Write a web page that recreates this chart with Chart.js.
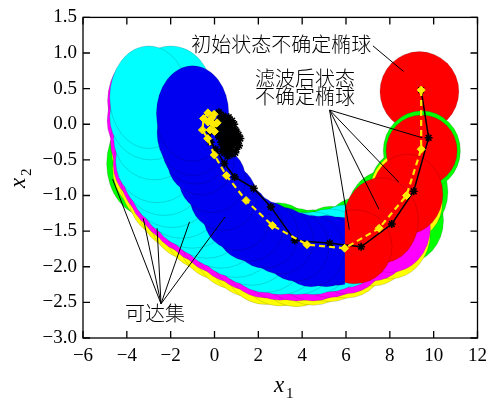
<!DOCTYPE html>
<html lang="zh">
<head>
<meta charset="UTF-8">
<title>可达集与不确定椭球</title>
<script src="https://cdn.jsdelivr.net/npm/chart.js"></script>
<style>
  html, body { margin: 0; padding: 0; background: #fff; }
  #wrap { width: 494px; height: 403px; }
</style>
</head>
<body>
<div id="wrap"><canvas id="graphique" width="494" height="403"></canvas></div>
<script>
// ---- données ----
const xTicks = [-6, -4, -2, 0, 2, 4, 6, 8, 10, 12];
const yTicks = [-3.0, -2.5, -2.0, -1.5, -1.0, -0.5, 0.0, 0.5, 1.0, 1.5];

// estimation filtrée (tirets jaunes)
const estX = [9.43, 9.43, 8.76, 7.51, 5.94, 4.22, 2.64, 1.44, 0.54, -0.01, -0.31, -0.55, -0.5, -0.3, -0.02, 0.12, 0.0, -0.2, -0.3, -0.15, -0.05];
const estY = [0.48, -0.35, -1.0, -1.46, -1.74, -1.69, -1.42, -1.07, -0.72, -0.43, -0.20, -0.08, 0.08, 0.16, 0.14, 0.02, -0.1, -0.08, 0.03, 0.08, 0.0];

// état réel (noir)
const trueX = [9.43, 9.77, 9.09, 8.09, 6.69, 5.26, 3.66, 2.57, 1.79, 0.92, 0.45, 0.05, -0.18, -0.2, 0.05,
  0.25, 0.4, 0.55, 0.35, 0.6, 0.8, 0.7, 0.95, 1.1, 0.9, 0.65, 0.45, 0.3, 0.5, 0.7, 0.6, 0.85, 1.05, 1.18, 1.0,
  0.8, 0.55, 0.4, 0.2, 0.15, 0.3, 0.2, 0.45, 0.65, 0.75, 0.9, 0.55, 0.35, 0.6, 0.75, 0.95,
  0.5, 0.25, 0.1, 0.4, 0.7, 1.0, 0.85, 0.6, 0.45, 0.3, 0.55, 0.8, 1.12, 0.95, 0.7, 0.35, 0.15];
const trueY = [0.48, -0.19, -0.94, -1.40, -1.72, -1.67, -1.63, -1.16, -0.90, -0.74, -0.55, -0.35, -0.25, -0.1, -0.05,
  0.05, 0.12, 0.08, -0.05, -0.02, 0.05, -0.12, -0.08, -0.15, -0.25, -0.2, -0.15, -0.25, -0.32, -0.38, -0.28, -0.3, -0.25, -0.2, -0.35,
  -0.42, -0.4, -0.3, -0.18, -0.05, 0.1, 0.17, 0.02, 0.1, -0.05, 0.0, -0.1, -0.2, -0.45, -0.25, -0.18,
  -0.22, -0.1, 0.02, 0.08, 0.0, -0.1, -0.2, -0.33, -0.4, -0.12, 0.0, -0.15, -0.3, -0.4, -0.33, -0.38, -0.12];

// ellipses [cx, cy, rx, ry]
const initialSet = [[9.35, 0.46, 1.8, 0.56]];
const greenSets = [
  [-3.0, -0.55, 1.92, 0.75], [2.9, -1.6, 1.6, 0.5], [3.7, -1.68, 1.6, 0.5], [4.5, -1.72, 1.6, 0.52],
  [5.3, -1.7, 1.6, 0.55], [6.6, -1.62, 1.75, 0.6], [7.8, -1.3, 1.8, 0.65], [8.7, -1.35, 1.75, 0.6],
  [8.85, -0.95, 1.8, 0.62], [9.46, -0.37, 1.76, 0.56]
];
const yellowSets = [
  [-2.75, -0.35, 1.95, 0.68], [-2.65, -0.62, 2.0, 0.65], [-2.3, -0.8, 2.0, 0.65], [-1.95, -0.97, 2.0, 0.65],
  [-1.5, -1.12, 2.0, 0.65], [-1.0, -1.26, 2.0, 0.65], [-0.35, -1.4, 2.0, 0.65], [0.3, -1.54, 2.0, 0.65],
  [1.0, -1.67, 2.0, 0.65], [1.7, -1.78, 2.0, 0.65], [2.35, -1.88, 2.0, 0.65], [3.0, -1.91, 1.98, 0.64],
  [3.75, -1.92, 1.98, 0.64], [4.5, -1.91, 1.98, 0.63], [5.25, -1.87, 1.95, 0.62], [6.0, -1.82, 1.9, 0.62],
  [7.2, -1.65, 1.85, 0.62], [8.0, -1.52, 1.85, 0.65], [8.9, -1.1, 1.5, 0.52], [8.7, -0.95, 1.6, 0.56]
];
const magentaSets = [
  [-3.0, 0.33, 1.88, 0.7], [-2.95, 0.05, 1.95, 0.62], [-2.8, -0.25, 1.95, 0.6], [-2.65, -0.56, 1.97, 0.61],
  [-2.3, -0.75, 1.97, 0.61], [-1.95, -0.92, 1.97, 0.61], [-1.5, -1.07, 1.97, 0.61], [-1.0, -1.21, 1.97, 0.61],
  [-0.35, -1.35, 1.97, 0.61], [0.3, -1.49, 1.97, 0.61], [1.0, -1.62, 1.97, 0.61], [1.7, -1.73, 1.97, 0.61],
  [2.35, -1.83, 1.97, 0.61], [3.0, -1.86, 1.95, 0.61], [3.75, -1.87, 1.95, 0.61], [4.5, -1.87, 1.95, 0.61],
  [5.25, -1.83, 1.9, 0.6], [6.0, -1.78, 1.85, 0.6], [7.2, -1.6, 1.8, 0.6], [8.0, -1.45, 1.85, 0.63]
];
const cyanSets = [
  [-3.0, 0.38, 1.78, 0.72], [-2.0, 0.42, 1.9, 0.68], [-2.9, 0.1, 1.88, 0.6], [-2.75, -0.2, 1.85, 0.58],
  [-2.62, -0.52, 1.89, 0.58], [-2.3, -0.7, 1.89, 0.58], [-1.95, -0.87, 1.89, 0.58], [-1.5, -1.02, 1.89, 0.58],
  [-1.0, -1.16, 1.89, 0.58], [-0.35, -1.3, 1.89, 0.58], [0.3, -1.44, 1.89, 0.58], [1.0, -1.57, 1.89, 0.58],
  [1.7, -1.68, 1.89, 0.58], [2.33, -1.78, 1.89, 0.58], [3.0, -1.81, 1.89, 0.58], [3.75, -1.81, 1.89, 0.58],
  [4.5, -1.81, 1.89, 0.58], [5.25, -1.77, 1.89, 0.58], [6.0, -1.71, 1.75, 0.58]
];
const blueSets = [
  [-1.0, 0.15, 1.65, 0.67], [-1.0, -0.12, 1.62, 0.6], [-0.85, -0.32, 1.55, 0.52], [-0.63, -0.51, 1.52, 0.48],
  [-0.1, -0.77, 1.52, 0.47], [0.4, -1.02, 1.52, 0.47], [1.03, -1.3, 1.52, 0.47], [1.6, -1.45, 1.52, 0.47],
  [2.3, -1.55, 1.52, 0.47], [3.0, -1.63, 1.52, 0.47], [3.7, -1.72, 1.52, 0.48], [4.4, -1.78, 1.52, 0.5],
  [5.1, -1.78, 1.5, 0.5], [5.6, -1.78, 1.5, 0.48]
];
const redSets = [
  [9.45, -0.37, 1.62, 0.5], [8.8, -0.98, 1.62, 0.56], [7.6, -1.35, 1.7, 0.6], [6.4, -1.72, 1.7, 0.52]
];
const cutX = 5.95;

// annotations
const labelTexts = ['初始状态不确定椭球', '滤波后状态', '不确定椭球', '可达集'];
const labelX = [3.05, 4.13, 4.13, -2.71];
const labelY = [1.126, 0.64, 0.39, -2.65];
// lignes de rappel [x0, y0, x1, y1]
const leaders = [
  [7.23, 1.1, 8.63, 0.74],
  [5.25, 0.2, 9.48, -0.19], [5.25, 0.2, 8.4, -0.81], [5.25, 0.2, 7.5, -1.19], [5.25, 0.2, 6.15, -1.48],
  [-2.44, -2.52, -4.65, -0.77], [-2.44, -2.52, -3.25, -1.32], [-2.44, -2.52, -2.62, -1.46],
  [-2.44, -2.52, -1.14, -1.37], [-2.44, -2.52, 0.48, -1.3]
];

// ---- couches d'ellipses ----
const layers = [
  { sets: initialSet, color: '#ff0000' },
  { sets: greenSets, color: '#00ff00' },
  { sets: yellowSets, color: '#ffff00' },
  { sets: magentaSets, color: '#ff00ff' },
  { sets: cyanSets, color: '#00ffff', reverse: true },
  { sets: blueSets, color: '#0000f0', reverse: true, xMax: cutX },
  { sets: redSets, color: '#ff0000', xMin: cutX }
];

const ellipsePlugin = {
  id: 'ellipses',
  beforeDatasetsDraw(chart) {
    const { ctx, chartArea: a, scales: { x, y } } = chart;
    ctx.save();
    ctx.beginPath();
    ctx.rect(a.left, a.top, a.right - a.left, a.bottom - a.top);
    ctx.clip();
    layers.forEach(layer => {
      ctx.save();
      if (layer.xMax !== undefined || layer.xMin !== undefined) {
        const l = layer.xMin !== undefined ? x.getPixelForValue(layer.xMin) : a.left;
        const r = layer.xMax !== undefined ? x.getPixelForValue(layer.xMax) : a.right;
        ctx.beginPath();
        ctx.rect(l, a.top, r - l, a.bottom - a.top);
        ctx.clip();
      }
      const list = layer.reverse ? layer.sets.slice().reverse() : layer.sets;
      list.forEach(([cx, cy, rx, ry]) => {
        const px = x.getPixelForValue(cx), py = y.getPixelForValue(cy);
        const prx = Math.abs(x.getPixelForValue(cx + rx) - px);
        const pry = Math.abs(y.getPixelForValue(cy + ry) - py);
        ctx.beginPath();
        ctx.ellipse(px, py, prx, pry, 0, 0, 2 * Math.PI);
        ctx.fillStyle = layer.color;
        ctx.fill();
        ctx.lineWidth = 0.5;
        ctx.strokeStyle = 'rgba(0,0,0,0.3)';
        ctx.stroke();
      });
      ctx.restore();
    });
    ctx.restore();
  }
};

const framePlugin = {
  id: 'frame',
  afterDatasetsDraw(chart) {
    const { ctx, chartArea: a, scales: { x, y } } = chart;
    ctx.save();
    // lignes de rappel
    ctx.strokeStyle = '#000';
    ctx.lineWidth = 1;
    leaders.forEach(([x0, y0, x1, y1]) => {
      ctx.beginPath();
      ctx.moveTo(x.getPixelForValue(x0), y.getPixelForValue(y0));
      ctx.lineTo(x.getPixelForValue(x1), y.getPixelForValue(y1));
      ctx.stroke();
    });
    // textes
    ctx.fillStyle = '#000';
    ctx.font = '300 20px "Noto Sans CJK SC"';
    ctx.textAlign = 'center';
    ctx.textBaseline = 'middle';
    labelTexts.forEach((t, i) => {
      ctx.fillText(t, x.getPixelForValue(labelX[i]), y.getPixelForValue(labelY[i]));
    });
    // cadre + graduations intérieures
    ctx.lineWidth = 1.3;
    ctx.strokeRect(a.left, a.top, a.right - a.left, a.bottom - a.top);
    const tl = 7;
    ctx.beginPath();
    xTicks.forEach(v => {
      const px = x.getPixelForValue(v);
      ctx.moveTo(px, a.bottom); ctx.lineTo(px, a.bottom - tl);
      ctx.moveTo(px, a.top); ctx.lineTo(px, a.top + tl);
    });
    yTicks.forEach(v => {
      const py = y.getPixelForValue(v);
      ctx.moveTo(a.left, py); ctx.lineTo(a.left + tl, py);
      ctx.moveTo(a.right, py); ctx.lineTo(a.right - tl, py);
    });
    ctx.stroke();
    // titres des axes
    ctx.textAlign = 'left';
    ctx.textBaseline = 'alphabetic';
    ctx.font = 'italic 23px "Liberation Serif"';
    ctx.fillText('x', 274, 392);
    ctx.font = '15px "Liberation Serif"';
    ctx.fillText('1', 286, 398);
    ctx.translate(25, 188);
    ctx.rotate(-Math.PI / 2);
    ctx.font = 'italic 23px "Liberation Serif"';
    ctx.fillText('x', 0, 0);
    ctx.font = '15px "Liberation Serif"';
    ctx.fillText('2', 12, 6);
    ctx.restore();
  }
};

function fmt(v, digits) {
  const s = Math.abs(v).toFixed(digits);
  return v < 0 ? '\u2212' + s : s;
}

const tickFont = { family: '"Liberation Serif", "Times New Roman", serif', size: 19 };

const ctx = document.getElementById('graphique').getContext('2d');
const myChart = new Chart(ctx, {
  type: 'scatter',
  data: {
    datasets: [
      {
        label: 'estimation',
        data: estX.map((v, i) => ({ x: v, y: estY[i] })),
        showLine: true,
        borderColor: '#ffea00',
        borderWidth: 2.2,
        borderDash: [6, 4],
        pointStyle: 'rectRot',
        pointRadius: 4,
        pointBackgroundColor: '#ffea00',
        pointBorderColor: '#ffea00',
        pointBorderWidth: 1
      },
      {
        label: 'réel',
        data: trueX.map((v, i) => ({ x: v, y: trueY[i] })),
        showLine: true,
        borderColor: '#000',
        borderWidth: 1.5,
        pointStyle: 'star',
        pointRadius: 4,
        pointBorderColor: '#000',
        pointBorderWidth: 1.6
      }
    ]
  },
  options: {
    responsive: false,
    animation: false,
    devicePixelRatio: 1,
    layout: { padding: { top: 13, right: 11, left: 0, bottom: 0 } },
    plugins: { legend: { display: false }, tooltip: { enabled: false } },
    scales: {
      x: {
        type: 'linear', min: -6, max: 12,
        afterFit(s) { s.height = 65; },
        grid: { display: false, drawTicks: false },
        border: { display: false },
        ticks: {
          stepSize: 2, padding: 7, color: '#000', maxRotation: 0,
          font: tickFont,
          callback: v => fmt(v, 0)
        }
      },
      y: {
        type: 'linear', min: -3, max: 1.5,
        afterFit(s) { s.width = 83; },
        grid: { display: false, drawTicks: false },
        border: { display: false },
        ticks: {
          stepSize: 0.5, padding: 6, color: '#000',
          font: tickFont,
          callback: v => fmt(v, 1)
        }
      }
    }
  },
  plugins: [ellipsePlugin, framePlugin]
});
</script>
</body>
</html>
